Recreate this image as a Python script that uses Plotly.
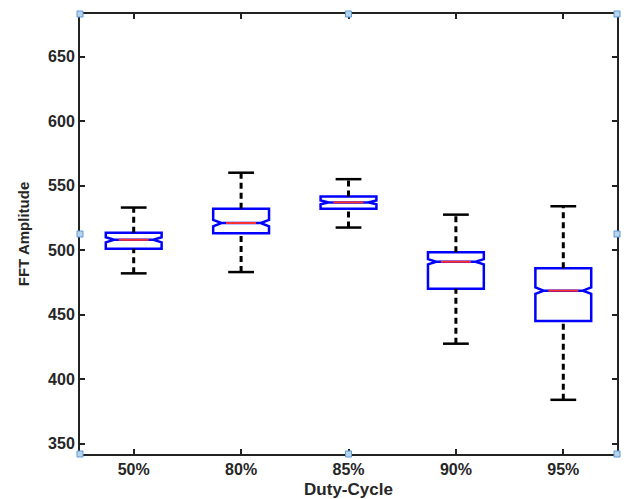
import plotly.graph_objects as go

categories = ["50%", "80%", "85%", "90%", "95%"]
upper_whisker = [533, 560, 555, 527.5, 534]
q3_vals = [513.5, 532, 541.5, 498.3, 486]
median_vals = [508, 521, 537, 491, 468.6]
q1_vals = [501, 513, 532, 470, 445]
lower_whisker = [482, 483, 517.5, 427.5, 384]
notch_half = [2.0, 2.5, 1.5, 2.0, 2.5]

positions = list(range(1, len(categories) + 1))
BOX_W = 0.52
CAP_HALF = 0.12
MED_HALF = 0.14

fig = go.Figure()

# dashed whiskers + caps
for i, p in enumerate(positions):
    for a, b in ((q3_vals[i], upper_whisker[i]), (lower_whisker[i], q1_vals[i])):
        fig.add_trace(go.Scatter(x=[p, p], y=[a, b], mode="lines",
                                 line=dict(color="black", width=3, dash="6px,4px"),
                                 showlegend=False, hoverinfo="skip"))
    for v in (upper_whisker[i], lower_whisker[i]):
        fig.add_trace(go.Scatter(x=[p - CAP_HALF, p + CAP_HALF], y=[v, v], mode="lines",
                                 line=dict(color="black", width=2.5),
                                 showlegend=False, hoverinfo="skip"))

# notched boxes (no whiskers: fences at quartiles)
fig.add_trace(go.Box(
    x=positions, q1=q1_vals, median=median_vals, q3=q3_vals,
    lowerfence=q1_vals, upperfence=q3_vals,
    notched=True, notchspan=notch_half, notchwidth=0.15,
    width=BOX_W, whiskerwidth=0,
    line=dict(color="#0000ff", width=2.5), fillcolor="rgba(0,0,0,0)",
    showlegend=False, hoverinfo="skip",
))

# red median lines
for i, p in enumerate(positions):
    fig.add_trace(go.Scatter(x=[p - MED_HALF, p + MED_HALF], y=[median_vals[i]] * 2,
                             mode="lines", line=dict(color="#ff3030", width=2),
                             showlegend=False, hoverinfo="skip"))

# editor-style handles
handles = [(0, 0), (0.5, 0), (1, 0), (0, 0.5), (1, 0.5), (0, 1), (0.5, 1), (1, 1)]
shapes = []
for hx, hy in handles:
    shapes.append(dict(type="rect", xref="paper", yref="paper",
                       xsizemode="pixel", ysizemode="pixel",
                       xanchor=hx, yanchor=hy, x0=-3, x1=3, y0=-3, y1=3,
                       fillcolor="#b8d4ea", line=dict(color="#5b9bd5", width=1)))

tickfont = dict(family="Liberation Sans", size=16, color="#262626", weight="bold")
fig.update_layout(
    width=624, height=499,
    margin=dict(l=80, r=7, t=14, b=45),
    paper_bgcolor="white", plot_bgcolor="white",
    shapes=shapes,
    xaxis=dict(range=[0.5, 5.5], tickvals=positions, ticktext=categories,
               automargin=False,
               showgrid=False, zeroline=False, showline=True, mirror="ticks",
               linecolor="#222", linewidth=2, ticks="inside", ticklen=5,
               tickwidth=1.5, tickcolor="#222", tickfont=tickfont,
               title=dict(text="Duty-Cycle",
                          font=dict(family="Liberation Sans", size=17,
                                    color="#262626", weight="bold"))),
    yaxis=dict(range=[342, 683], tickvals=[350, 400, 450, 500, 550, 600, 650],
               automargin=False,
               showgrid=False, zeroline=False, showline=True, mirror="ticks",
               linecolor="#222", linewidth=2, ticks="inside", ticklen=5,
               tickwidth=1.5, tickcolor="#222", tickfont=tickfont,
               title=dict(text="FFT Amplitude",
                          font=dict(family="Liberation Sans", size=15,
                                    color="#262626", weight="bold"))),
)

fig.write_html("out.html", config={"displayModeBar": False},
               post_script="document.body.style.margin='0';document.body.style.overflow='hidden';")
